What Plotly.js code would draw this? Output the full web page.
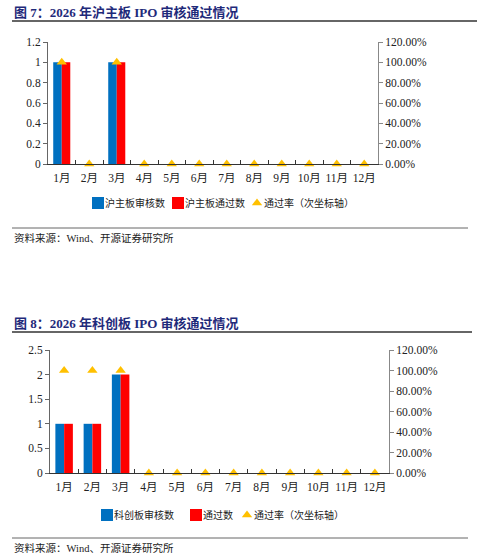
<!DOCTYPE html>
<html>
<head>
<meta charset="utf-8">
<script src="https://cdn.plot.ly/plotly-3.0.1.min.js"></script>
<style>
html,body{margin:0;padding:0;background:#fff;}
#chart{width:477px;height:557px;}
</style>
</head>
<body>
<div id="chart"></div>
<script>
// ---- Data ----
const months = ["1月","2月","3月","4月","5月","6月","7月","8月","9月","10月","11月","12月"];

// Figure 7: 沪主板
const shReview = [1,0,1,0,0,0,0,0,0,0,0,0];
const shPass   = [1,0,1,0,0,0,0,0,0,0,0,0];
const shRate   = [1,0,1,0,0,0,0,0,0,0,0,0];

// Figure 8: 科创板
const kcReview = [1,1,2,0,0,0,0,0,0,0,0,0];
const kcPass   = [1,1,2,0,0,0,0,0,0,0,0,0];
const kcRate   = [1,1,1,0,0,0,0,0,0,0,0,0];

const title1 = "图 7：2026 年沪主板 IPO 审核通过情况";
const title2 = "图 8：2026 年科创板 IPO 审核通过情况";
const source = "资料来源：Wind、开源证券研究所";

const names1 = ["沪主板审核数","沪主板通过数","通过率（次坐标轴）"];
const names2 = ["科创板审核数","通过数","通过率（次坐标轴）"];

// ---- Style ----
const W = 477, H = 557;
const FONT = "'Times New Roman','Liberation Serif','Noto Sans CJK SC',serif";
const BLUE = "#0070C0", RED = "#FF0000", GOLD = "#FFC000";
const px = v => v / W;
const py = v => 1 - v / H;

const traces = [
  {type:'bar', x:months, y:shReview, name:names1[0], marker:{color:BLUE}, xaxis:'x', yaxis:'y', legend:'legend'},
  {type:'bar', x:months, y:shPass, name:names1[1], marker:{color:RED}, xaxis:'x', yaxis:'y', legend:'legend'},
  {type:'scatter', mode:'markers', x:months, y:shRate, name:names1[2], marker:{symbol:'triangle-up', color:GOLD, size:9}, xaxis:'x', yaxis:'y2', legend:'legend', cliponaxis:false},
  {type:'bar', x:months, y:kcReview, name:names2[0], marker:{color:BLUE}, xaxis:'x2', yaxis:'y3', legend:'legend2'},
  {type:'bar', x:months, y:kcPass, name:names2[1], marker:{color:RED}, xaxis:'x2', yaxis:'y3', legend:'legend2'},
  {type:'scatter', mode:'markers', x:months, y:kcRate, name:names2[2], marker:{symbol:'triangle-up', color:GOLD, size:9}, xaxis:'x2', yaxis:'y4', legend:'legend2', cliponaxis:false}
];

const tickFont = {family:FONT, size:11.5, color:'#222'};

function xAxis(d0,d1,anchor){
  return {domain:[d0,d1], anchor:anchor, type:'category', range:[-0.5,11.5], autorange:false,
    showline:true, linecolor:'#333', linewidth:1, tickangle:0, ticklabelstandoff:3,
    ticks:'inside', tickson:'boundaries', ticklen:4, tickcolor:'#333', tickfont:tickFont,
    showgrid:false, zeroline:false, fixedrange:true};
}
function yLeft(d0,d1,anchor,max,dt){
  return {domain:[d0,d1], anchor:anchor, range:[0,max], dtick:dt, tick0:0, showline:true, linecolor:'#666', linewidth:1,
    ticks:'outside', ticklen:4, tickcolor:'#666', tickfont:tickFont, showgrid:false, zeroline:false, fixedrange:true};
}
function yRight(d0,d1,anchor,over){
  return {domain:[d0,d1], anchor:anchor, overlaying:over, side:'right', range:[0,1.2], dtick:0.2, tick0:0,
    tickformat:'.2%', showline:true, linecolor:'#888', linewidth:1, ticks:'outside', ticklen:4, tickcolor:'#888',
    tickfont:tickFont, showgrid:false, zeroline:false, fixedrange:true};
}

const legFont = {family:FONT, size:10, color:'#222'};

const layout = {
  width:W, height:H,
  margin:{l:0,r:0,t:0,b:0},
  paper_bgcolor:'#fff', plot_bgcolor:'rgba(0,0,0,0)',
  font:{family:FONT, size:11, color:'#222'},
  barmode:'group', bargap:0.38, bargroupgap:0,
  xaxis: xAxis(px(48), px(378), 'y'),
  yaxis: yLeft(py(164), py(42), 'x', 1.2, 0.2),
  yaxis2: yRight(py(164), py(42), 'x', 'y'),
  xaxis2: xAxis(px(50), px(389), 'y3'),
  yaxis3: yLeft(py(473), py(350), 'x2', 2.5, 0.5),
  yaxis4: yRight(py(473), py(350), 'x2', 'y3'),
  legend:{orientation:'h', x:px(226), xanchor:'center', y:py(203), yanchor:'middle',
    font:legFont, itemwidth:30, tracegroupgap:0, bgcolor:'rgba(0,0,0,0)'},
  legend2:{orientation:'h', x:px(232), xanchor:'center', y:py(515), yanchor:'middle',
    font:legFont, itemwidth:30, tracegroupgap:0, bgcolor:'rgba(0,0,0,0)'},
  shapes:[
    {type:'line', xref:'paper', yref:'paper', x0:px(12), x1:px(477), y0:py(21), y1:py(21), line:{color:'#333', width:1.5}},
    {type:'line', xref:'paper', yref:'paper', x0:px(12), x1:px(468), y0:py(228), y1:py(228), line:{color:'#666', width:1}},
    {type:'line', xref:'paper', yref:'paper', x0:px(12), x1:px(472), y0:py(332), y1:py(332), line:{color:'#333', width:1.5}},
    {type:'line', xref:'paper', yref:'paper', x0:px(12), x1:px(468), y0:py(538), y1:py(538), line:{color:'#666', width:1}}
  ],
  annotations:[
    {text:'<b>'+title1+'</b>', xref:'paper', yref:'paper', x:px(12), y:py(12), xanchor:'left', yanchor:'middle', showarrow:false,
      font:{family:FONT, size:13, color:'#1F2A7A'}},
    {text:source, xref:'paper', yref:'paper', x:px(12), y:py(238), xanchor:'left', yanchor:'middle', showarrow:false,
      font:{family:FONT, size:10.5, color:'#222'}},
    {text:'<b>'+title2+'</b>', xref:'paper', yref:'paper', x:px(12), y:py(323), xanchor:'left', yanchor:'middle', showarrow:false,
      font:{family:FONT, size:13, color:'#1F2A7A'}},
    {text:source, xref:'paper', yref:'paper', x:px(12), y:py(548), xanchor:'left', yanchor:'middle', showarrow:false,
      font:{family:FONT, size:10.5, color:'#222'}}
  ]
};

// Target symbol-centre x positions (pixels) for the compact legends
const legendTargets = {legend:[98,178,257], legend2:[107,196,247]};

Plotly.newPlot('chart', traces, layout, {displayModeBar:false, staticPlot:true}).then(function(gd){
  ['legend','legend2'].forEach(function(cls){
    const lg = gd.querySelector('g.' + cls);
    if(!lg) return;
    const items = lg.querySelectorAll('g.traces');
    items.forEach(function(item, i){
      const sym = item.querySelector('g.legendsymbols');
      if(sym) sym.setAttribute('transform', 'translate(13,0)');
      const tr = item.getAttribute('transform') || '';
      const m = /translate\(\s*([-\d.e]+)[ ,]+([-\d.e]+)\s*\)/.exec(tr);
      if(!m || !sym) return;
      const r = sym.getBoundingClientRect();
      const cx = r.left + r.width / 2;
      const shift = legendTargets[cls][i] - cx;
      item.setAttribute('transform', 'translate(' + (parseFloat(m[1]) + shift) + ',' + m[2] + ')');
    });
  });
});
</script>
</body>
</html>
